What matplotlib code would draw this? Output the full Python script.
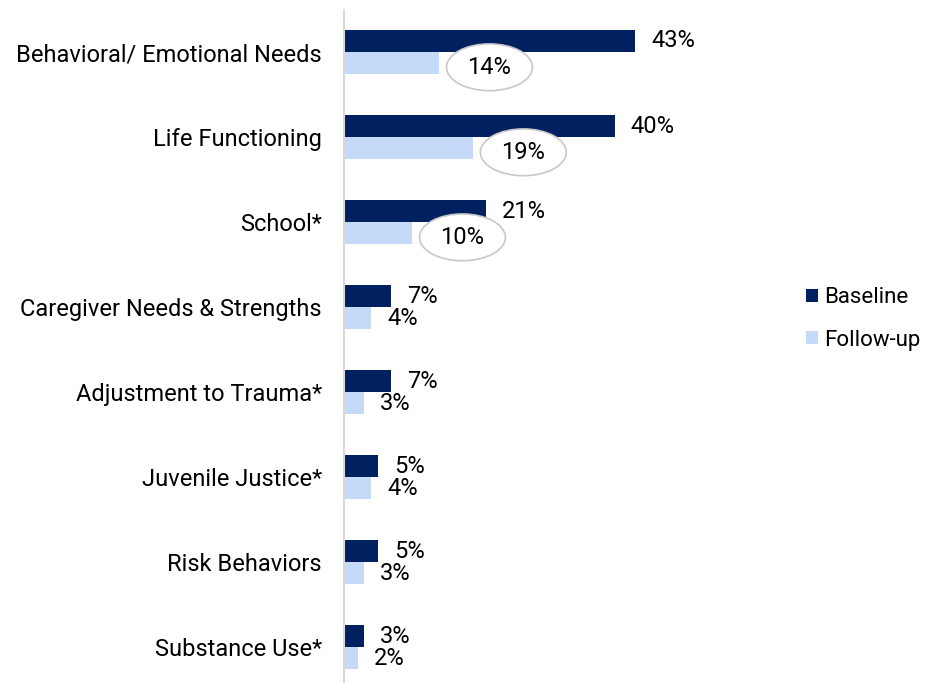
import numpy as np
import matplotlib.pyplot as plt
from matplotlib.patches import Ellipse

plt.rcParams['font.family'] = ['Roboto', 'DejaVu Sans']

categories = ['Behavioral/ Emotional Needs', 'Life Functioning', 'School*',
              'Caregiver Needs & Strengths', 'Adjustment to Trauma*',
              'Juvenile Justice*', 'Risk Behaviors', 'Substance Use*']
baseline = [43, 40, 21, 7, 7, 5, 5, 3]
followup = [14, 19, 10, 4, 3, 4, 3, 2]
circled = [0, 1, 2]  # follow-up labels drawn in ellipses

navy = '#002060'
light = '#C5D9F9'
fs = 17

fig = plt.figure(figsize=(9.25, 6.83), dpi=100)
ax = fig.add_axes([344/925, 0, 406/925, 673/683])

y = np.arange(len(categories))
h = 0.259
ax.barh(y - h/2, baseline, height=h, color=navy, label='Baseline')
ax.barh(y + h/2, followup, height=h, color=light, label='Follow-up')

for i in range(len(categories)):
    ax.annotate(f'{baseline[i]}%', (baseline[i], y[i] - h/2), xytext=(11.5, 0),
                textcoords='offset points', va='center', ha='left', fontsize=fs)
    if i in circled:
        cx = followup[i] + 7.5
        cy = y[i] + h/2 + 0.05
        ax.add_patch(Ellipse((cx, cy), 12.7, 0.55, facecolor='white',
                             edgecolor='#c8c8c8', lw=1.2, zorder=3))
        ax.text(cx, cy, f'{followup[i]}%', ha='center', va='center',
                fontsize=fs, zorder=4)
    else:
        ax.annotate(f'{followup[i]}%', (followup[i], y[i] + h/2), xytext=(11.5, 0),
                    textcoords='offset points', va='center', ha='left', fontsize=fs)

ax.set_xlim(0, 60)
ax.set_ylim(7.42, -0.494)
ax.set_yticks(y)
ax.set_yticklabels(categories, fontsize=fs)
ax.tick_params(axis='y', length=0, pad=16)
ax.set_xticks([])
for s in ['top', 'right', 'bottom']:
    ax.spines[s].set_visible(False)
ax.spines['left'].set_color('#d9d9d9')
ax.spines['left'].set_linewidth(1.5)

fig.legend(loc='center left', bbox_to_anchor=(797/925, 1 - 319/683), frameon=False,
           fontsize=16, handlelength=0.55, handleheight=0.55, handletextpad=0.25,
           labelspacing=0.95, borderaxespad=0)

fig.savefig('out.png', dpi=100)
